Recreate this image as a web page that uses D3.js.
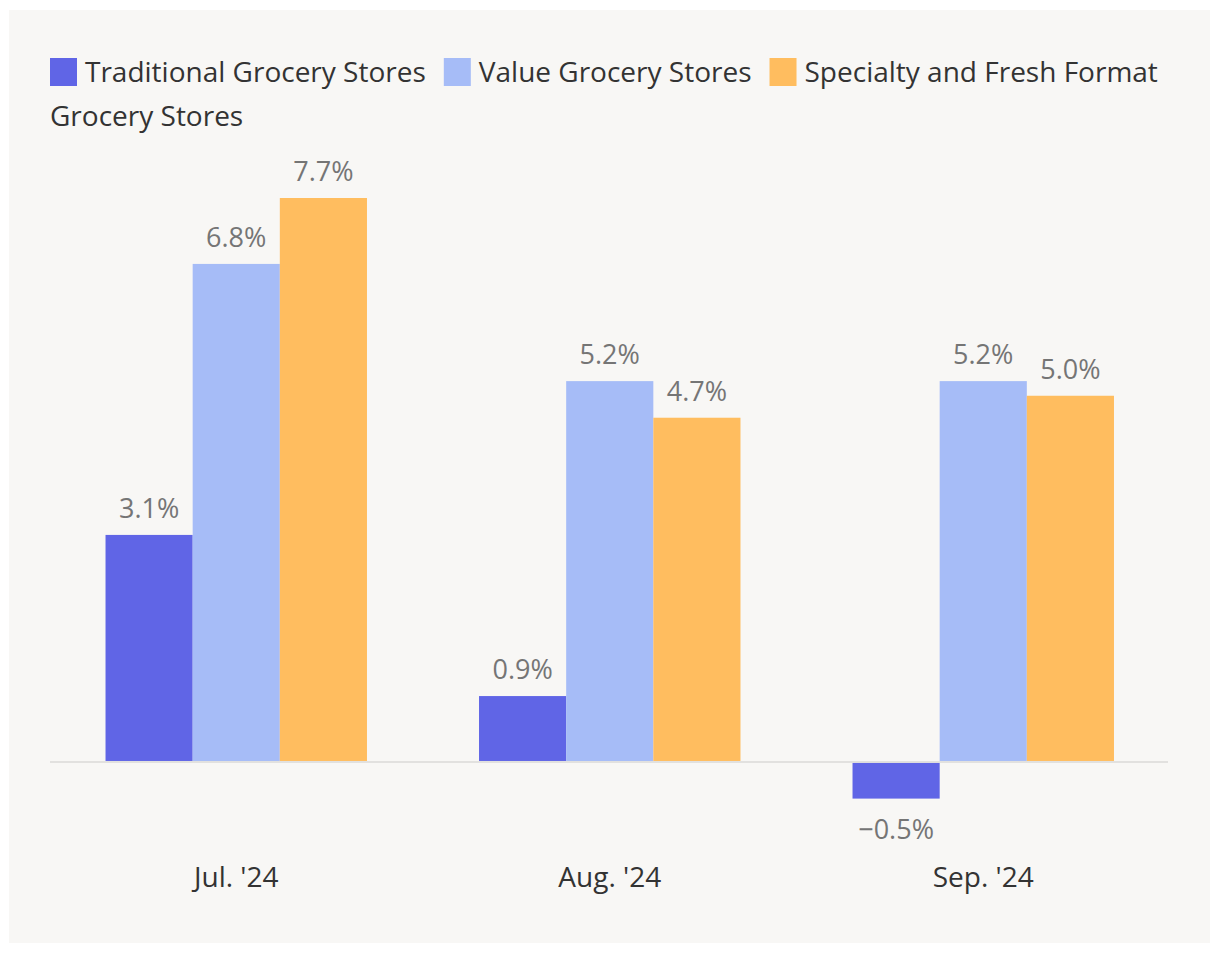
<!DOCTYPE html>
<html>
<head>
<meta charset="utf-8">
<script src="https://cdn.jsdelivr.net/npm/d3@7"></script>
<style>
  html, body { margin: 0; padding: 0; background: #ffffff; }
  svg { display: block; }
  text { font-family: "Open Sans", "Noto Sans", sans-serif; }
</style>
</head>
<body>
<script>
const categories = ["Jul. '24", "Aug. '24", "Sep. '24"];
const seriesNames = ["Traditional Grocery Stores", "Value Grocery Stores", "Specialty and Fresh Format Grocery Stores"];
const traditional = [3.1, 0.9, -0.5];
const value = [6.8, 5.2, 5.2];
const specialty = [7.7, 4.7, 5.0];
const seriesColors = ["#6065e6", "#a6bcf7", "#ffbd5f"];

const seriesValues = [traditional, value, specialty];
const W = 1220, H = 954;
const svg = d3.select("body").append("svg").attr("width", W).attr("height", H);

svg.append("rect").attr("x", 9).attr("y", 10).attr("width", 1201).attr("height", 933).attr("fill", "#f8f7f5");

const plotLeft = 50, plotRight = 1168;
const x0 = d3.scaleBand().domain(categories).range([49.5, 1170]).paddingInner(0.3).paddingOuter(0.15);
const x1 = d3.scaleBand().domain(seriesNames).range([0, x0.bandwidth()]).padding(0);
const y = d3.scaleLinear().domain([-0.5, 7.7]).range([798.6, 198]);

// baseline
svg.append("line").attr("x1", plotLeft).attr("x2", plotRight).attr("y1", y(0)).attr("y2", y(0))
  .attr("stroke", "#e2e1df").attr("stroke-width", 2);

const fmt = v => (v < 0 ? "\u2212" : "") + Math.abs(v).toFixed(1) + "%";

seriesNames.forEach((name, si) => {
  const g = svg.append("g");
  categories.forEach((cat, ci) => {
    const v = seriesValues[si][ci];
    const bx = x0(cat) + x1(name);
    const top = v >= 0 ? y(v) : y(0) + 1;
    const bottom = v >= 0 ? y(0) - 1 : y(v);
    g.append("rect").attr("x", bx).attr("y", top).attr("width", x1.bandwidth()).attr("height", bottom - top)
      .attr("fill", seriesColors[si]);
    g.append("text").attr("x", bx + x1.bandwidth() / 2)
      .attr("y", v >= 0 ? y(v) - 17 : y(v) + 40)
      .attr("text-anchor", "middle").attr("font-size", 27).attr("fill", "#757575")
      .text(fmt(v));
  });
});

// x axis labels
const xAxis = d3.axisBottom(x0).tickSize(0).tickPadding(0);
const ax = svg.append("g").attr("transform", `translate(0, 887)`).call(xAxis);
ax.select(".domain").remove();
ax.selectAll("text").attr("font-size", 28).attr("fill", "#333333")
  .attr("font-family", '"Open Sans", sans-serif').attr("dy", 0);

// legend with flow wrapping
const legend = svg.append("g");
const legendRight = 1172;
let cx = 50, baseY = 82;
const lineH = 44;
seriesNames.forEach((name, si) => {
  const words = name.split(" ");
  legend.append("rect").attr("x", cx).attr("y", baseY - 24).attr("width", 27).attr("height", 28).attr("fill", seriesColors[si]);
  cx += 35;
  const t = legend.append("text").attr("font-size", 28).attr("fill", "#333333");
  let tspan = t.append("tspan").attr("x", cx).attr("y", baseY);
  let line = [];
  const startX = cx;
  words.forEach(w => {
    line.push(w);
    tspan.text(line.join(" "));
    if (+tspan.attr("x") + tspan.node().getComputedTextLength() > legendRight && line.length > 1) {
      line.pop();
      tspan.text(line.join(" "));
      baseY += lineH;
      line = [w];
      tspan = t.append("tspan").attr("x", plotLeft).attr("y", baseY).text(w);
    }
  });
  const lx = +tspan.attr("x");
  cx = lx + tspan.node().getComputedTextLength() + 18;
});
</script>
</body>
</html>
